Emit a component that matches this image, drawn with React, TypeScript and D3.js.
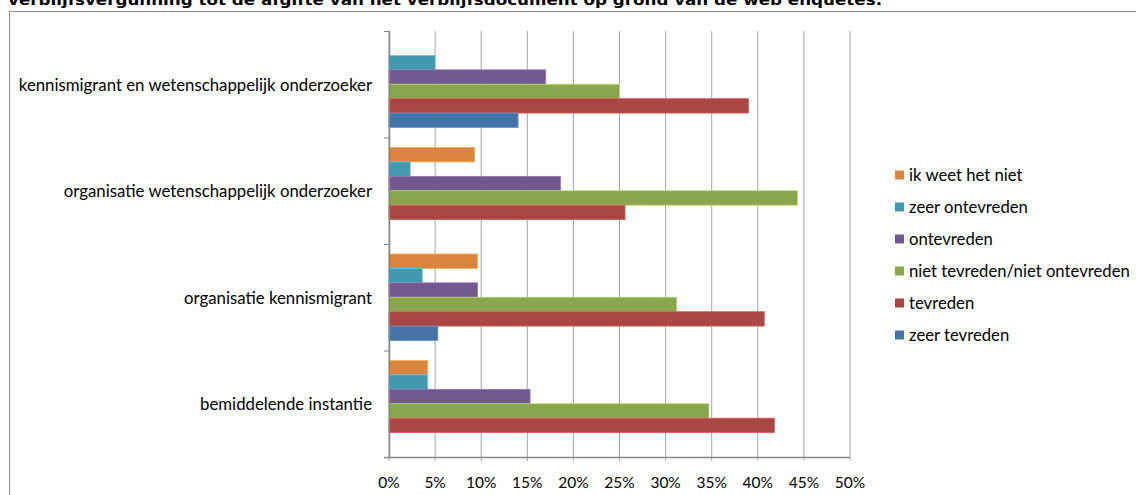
import * as d3 from "d3";

// categories top to bottom
const categories = [
  "kennismigrant en wetenschappelijk onderzoeker",
  "organisatie wetenschappelijk onderzoeker",
  "organisatie kennismigrant",
  "bemiddelende instantie",
];

// series in legend order (top bar first inside each group)
const series = [
  "ik weet het niet",
  "zeer ontevreden",
  "ontevreden",
  "niet tevreden/niet ontevreden",
  "tevreden",
  "zeer tevreden",
];

const colors = ["#DB843D", "#4198AF", "#71588F", "#89A54E", "#AA4643", "#4572A7"];

// values per series, same order as categories
const ikWeetHetNiet = [0, 0.093, 0.096, 0.042];
const zeerOntevreden = [0.05, 0.023, 0.036, 0.042];
const ontevreden = [0.17, 0.186, 0.096, 0.153];
const neutraal = [0.25, 0.443, 0.312, 0.347];
const tevreden = [0.39, 0.256, 0.407, 0.418];
const zeerTevreden = [0.14, 0, 0.053, 0];

const values = [ikWeetHetNiet, zeerOntevreden, ontevreden, neutraal, tevreden, zeerTevreden];

const xTicks = [0, 0.05, 0.1, 0.15, 0.2, 0.25, 0.3, 0.35, 0.4, 0.45, 0.5];

const title =
  "verblijfsvergunning tot de afgifte van het verblijfsdocument op grond van de web enquêtes.";

const W = 1136;
const H = 495;
const font = "Lato, 'Open Sans', sans-serif";

export default function App() {
  const x = d3.scaleLinear().domain([0, 0.5]).range([389, 850]);
  const y = d3.scaleBand().domain(categories).range([31, 457]);
  const yInner = d3
    .scaleBand()
    .domain(series)
    .range([10, y.bandwidth() - 10]);
  const pct = d3.format(".0%");

  return (
    <svg
      width={W}
      height={H}
      style={{ position: "absolute", left: 0, top: 0, background: "#fff" }}
    >
      {/* title is cut off at the top edge, as in the source */}
      <text
        x={8}
        y={5}
        fontFamily="'DejaVu Sans', Verdana, sans-serif"
        fontWeight="bold"
        fontSize={14}
        textLength={874}
        lengthAdjust="spacingAndGlyphs"
        fill="#000"
      >
        {title}
      </text>
      <rect x={9.5} y={11.5} width={1140} height={500} fill="none" stroke="#8c8c8c" />

      {/* gridlines */}
      {xTicks.map((t) => (
        <line
          key={"g" + t}
          x1={x(t)}
          x2={x(t)}
          y1={31}
          y2={461}
          stroke="#a6a6a6"
          strokeWidth={1}
        />
      ))}

      {/* bars */}
      {series.map((s, si) =>
        categories.map((c, ci) => {
          const v = values[si][ci];
          if (!v) return null;
          return (
            <rect
              key={s + c}
              x={x(0)}
              y={(y(c) ?? 0) + (yInner(s) ?? 0)}
              width={x(v) - x(0)}
              height={yInner.bandwidth()}
              fill={colors[si]}
              stroke={d3.color(colors[si])!.brighter(0.8).formatHex()}
              strokeWidth={0.8}
            />
          );
        })
      )}

      {/* y axis */}
      <line x1={389.5} x2={389.5} y1={31} y2={457} stroke="#868686" strokeWidth={1.5} />
      {[...categories.map((c) => y(c) ?? 0), 457].map((p, i) => (
        <line key={"yt" + i} x1={384} x2={389} y1={p + 0.5} y2={p + 0.5} stroke="#868686" />
      ))}
      {categories.map((c) => (
        <text
          key={c}
          x={372}
          y={(y(c) ?? 0) + y.bandwidth() / 2}
          textAnchor="end"
          dominantBaseline="central"
          fontFamily={font}
          fontSize={16.8}
          fill="#000"
        >
          {c}
        </text>
      ))}

      {/* x axis */}
      <line x1={384} x2={850} y1={457.5} y2={457.5} stroke="#868686" strokeWidth={1.5} />
      {xTicks.map((t) => (
        <text
          key={"xl" + t}
          x={x(t)}
          y={482}
          textAnchor="middle"
          dominantBaseline="central"
          fontFamily={font}
          fontSize={15.5}
          fill="#000"
        >
          {pct(t)}
        </text>
      ))}

      {/* legend */}
      {series.map((s, i) => (
        <g key={"l" + s} transform={`translate(895, ${175 + i * 32})`}>
          <rect x={0} y={-4.5} width={9} height={9} fill={colors[i]} />
          <text
            x={14}
            y={0}
            dominantBaseline="central"
            fontFamily={font}
            fontSize={16.7}
            fill="#000"
          >
            {s}
          </text>
        </g>
      ))}
    </svg>
  );
}
